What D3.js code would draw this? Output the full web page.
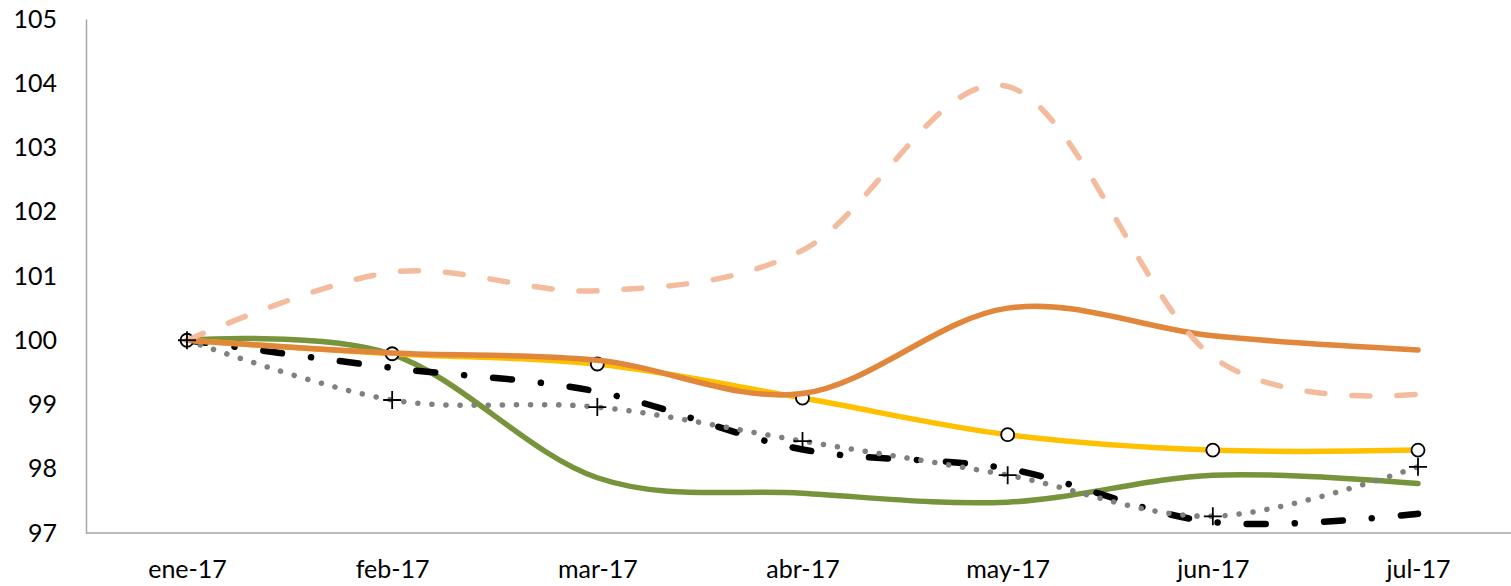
<!DOCTYPE html>
<html><head><meta charset="utf-8">
<script src="https://cdn.jsdelivr.net/npm/d3@7"></script>
<style>body{margin:0;background:#fff}svg{display:block}text{font-family:Lato,"Open Sans",sans-serif}</style>
</head><body><svg id="c" width="1511" height="586"></svg>
<script>
const categories = ["ene-17","feb-17","mar-17","abr-17","may-17","jun-17","jul-17"];
const yTicks = [97,98,99,100,101,102,103,104,105];
const salmonDashed = [100,101.06,100.77,101.4,103.95,99.74,99.16];
const orangeSolid  = [100,99.8,99.69,99.17,100.5,100.07,99.85];
const yellowCircle = [100,99.79,99.63,99.1,98.53,98.29,98.29];
const greenSolid   = [100,99.78,97.86,97.62,97.48,97.9,97.77];
const blackDashDot = [100,99.57,99.2,98.3,98.0,97.17,97.3];
const grayDotted   = [100,99.07,98.96,98.43,97.9,97.26,98.03];

const svg = d3.select("#c");
const x = d3.scalePoint().domain(categories).range([187,1418]);
const y = d3.scaleLinear().domain([97,105]).range([533,19]);
const axisColor = "#a6a6a6";

// y axis
const ya = svg.append("g").attr("transform","translate(86,0)")
  .call(d3.axisLeft(y).tickValues(yTicks).tickSize(0).tickPadding(29).tickFormat(d3.format("d")));
ya.select(".domain").attr("stroke",axisColor).attr("stroke-width",1.5);
ya.selectAll("text").attr("font-size",25).attr("fill","#000").attr("font-family","Lato");

// x axis
const xa = svg.append("g").attr("transform","translate(0,533)")
  .call(d3.axisBottom(x).tickSize(0).tickPadding(27));
xa.select(".domain").remove();
xa.selectAll("text").attr("font-size",25).attr("fill","#000").attr("font-family","Lato");
svg.append("line").attr("x1",86).attr("x2",1511).attr("y1",533).attr("y2",533)
  .attr("stroke",axisColor).attr("stroke-width",1.5);

const line = d3.line().x((d,i)=>x(categories[i])).y(d=>y(d)).curve(d3.curveCatmullRom.alpha(0));

function draw(data, color, width, dash){
  svg.append("path").attr("d",line(data)).attr("fill","none").attr("stroke",color)
    .attr("stroke-width",width).attr("stroke-linecap","round").attr("stroke-linejoin","round")
    .attr("stroke-dasharray",dash||null);
}
draw(greenSolid,"#77933c",5.5);
draw(blackDashDot,"#000",6.5,"19 29 0.1 29");
draw(grayDotted,"#808080",5.5,"0.1 14");
draw(yellowCircle,"#ffc000",5.5);
svg.append("g").selectAll("circle").data(yellowCircle).join("circle")
  .attr("cx",(d,i)=>x(categories[i])).attr("cy",d=>y(d)).attr("r",6.5)
  .attr("fill","#fff").attr("stroke","#000").attr("stroke-width",1.8);
draw(orangeSolid,"#e0873c",5.5);
draw(salmonDashed,"#f4bc9f",5.5,"18 27");
svg.append("g").selectAll("path").data(grayDotted).join("path")
  .attr("d",(d,i)=>{const cx=x(categories[i]),cy=y(d);return `M${cx-9},${cy}H${cx+9}M${cx},${cy-9}V${cy+9}`;})
  .attr("stroke","#000").attr("stroke-width",1.8).attr("fill","none");
</script></body></html>
